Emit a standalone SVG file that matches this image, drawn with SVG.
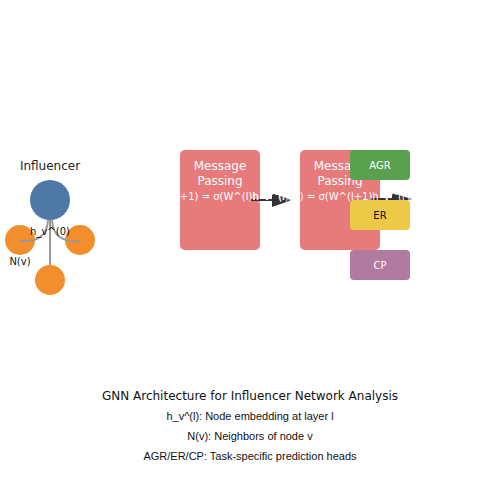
<svg xmlns="http://www.w3.org/2000/svg" width="500" height="500" viewBox="0 0 500 500">
<style>
.dv{font-family:"DejaVu Sans",sans-serif}
.ls{font-family:"Liberation Sans",Arial,sans-serif}
.mp{fill:#e77a7a}
.wt{fill:#ffffff}
.edge{stroke:#999999;stroke-width:2;fill:none}
.arr{stroke:#333333;stroke-width:2;fill:none}
.head{fill:#333333}
</style>
<rect width="500" height="500" fill="#ffffff"/>

<g id="influencer">
<text x="50" y="170" text-anchor="middle" class="dv" font-size="12" fill="#222">Influencer</text>
<circle cx="50" cy="200" r="20" fill="#4e79a7"/>
</g>
<g id="neighbor-left"><circle cx="20" cy="240" r="15" fill="#f28e2b"/></g>
<g id="neighbor-right"><circle cx="80" cy="240" r="15" fill="#f28e2b"/></g>
<g id="neighbor-bottom"><circle cx="50" cy="280" r="15" fill="#f28e2b"/></g>

<g id="graph-edges">
<path class="edge" d="M50,220 L50,265"/>
<path class="edge" d="M48,220 Q47,243 20,241"/>
<path class="edge" d="M52,220 Q53,243 80,241"/>
</g>

<g id="graph-labels">
<text x="50" y="235" text-anchor="middle" class="dv" font-size="10" fill="#111">h_v^(0)</text>
<text x="20" y="265" text-anchor="middle" class="dv" font-size="10" fill="#111">N(v)</text>
</g>

<g id="mp1">
<rect x="180" y="150" width="80" height="100" rx="5" class="mp"/>
</g>
<g id="mp2">
<rect x="300" y="150" width="80" height="100" rx="5" class="mp"/>
</g>

<g id="connectors">
<path class="arr" d="M250,200 L280,200"/>
<path class="head" d="M272,193 L292,200 L272,207 Z"/>
<path class="arr" d="M370,199 L400,199"/>
<path class="head" d="M392,193 L412,199 L392,205 Z"/>
</g>

<g id="mp1-text" class="dv wt">
<text x="220" y="170" text-anchor="middle" font-size="12">Message</text>
<text x="220" y="185" text-anchor="middle" font-size="12">Passing</text>
<text x="220" y="200" text-anchor="middle" font-size="10">h_v^(l+1) = σ(W^(l)h_v^(l))</text>
</g>
<g id="mp2-text" class="dv wt">
<text x="340" y="170" text-anchor="middle" font-size="12">Message</text>
<text x="340" y="185" text-anchor="middle" font-size="12">Passing</text>
<text x="340" y="200" text-anchor="middle" font-size="10">h_v^(l+2) = σ(W^(l+1)h_v^(l+1))</text>
</g>

<g id="head-agr">
<rect x="350" y="150" width="60" height="30" rx="4" fill="#59a14f"/>
<text x="380" y="169" text-anchor="middle" class="dv" font-size="10" fill="#ffffff">AGR</text>
</g>
<g id="head-er">
<rect x="350" y="200" width="60" height="30" rx="4" fill="#edc948"/>
<text x="380" y="219" text-anchor="middle" class="dv" font-size="10" fill="#111111">ER</text>
</g>
<g id="head-cp">
<rect x="350" y="250" width="60" height="30" rx="4" fill="#b07aa1"/>
<text x="380" y="269" text-anchor="middle" class="dv" font-size="10" fill="#ffffff">CP</text>
</g>

<g id="caption">
<text x="250" y="400" text-anchor="middle" class="dv" font-size="12" fill="#111">GNN Architecture for Influencer Network Analysis</text>
<text x="250" y="420" text-anchor="middle" class="ls" font-size="11" fill="#111">h_v^(l): Node embedding at layer l</text>
<text x="250" y="440" text-anchor="middle" class="ls" font-size="11" fill="#111">N(v): Neighbors of node v</text>
<text x="250" y="460" text-anchor="middle" class="ls" font-size="11" fill="#111">AGR/ER/CP: Task-specific prediction heads</text>
</g>
</svg>
